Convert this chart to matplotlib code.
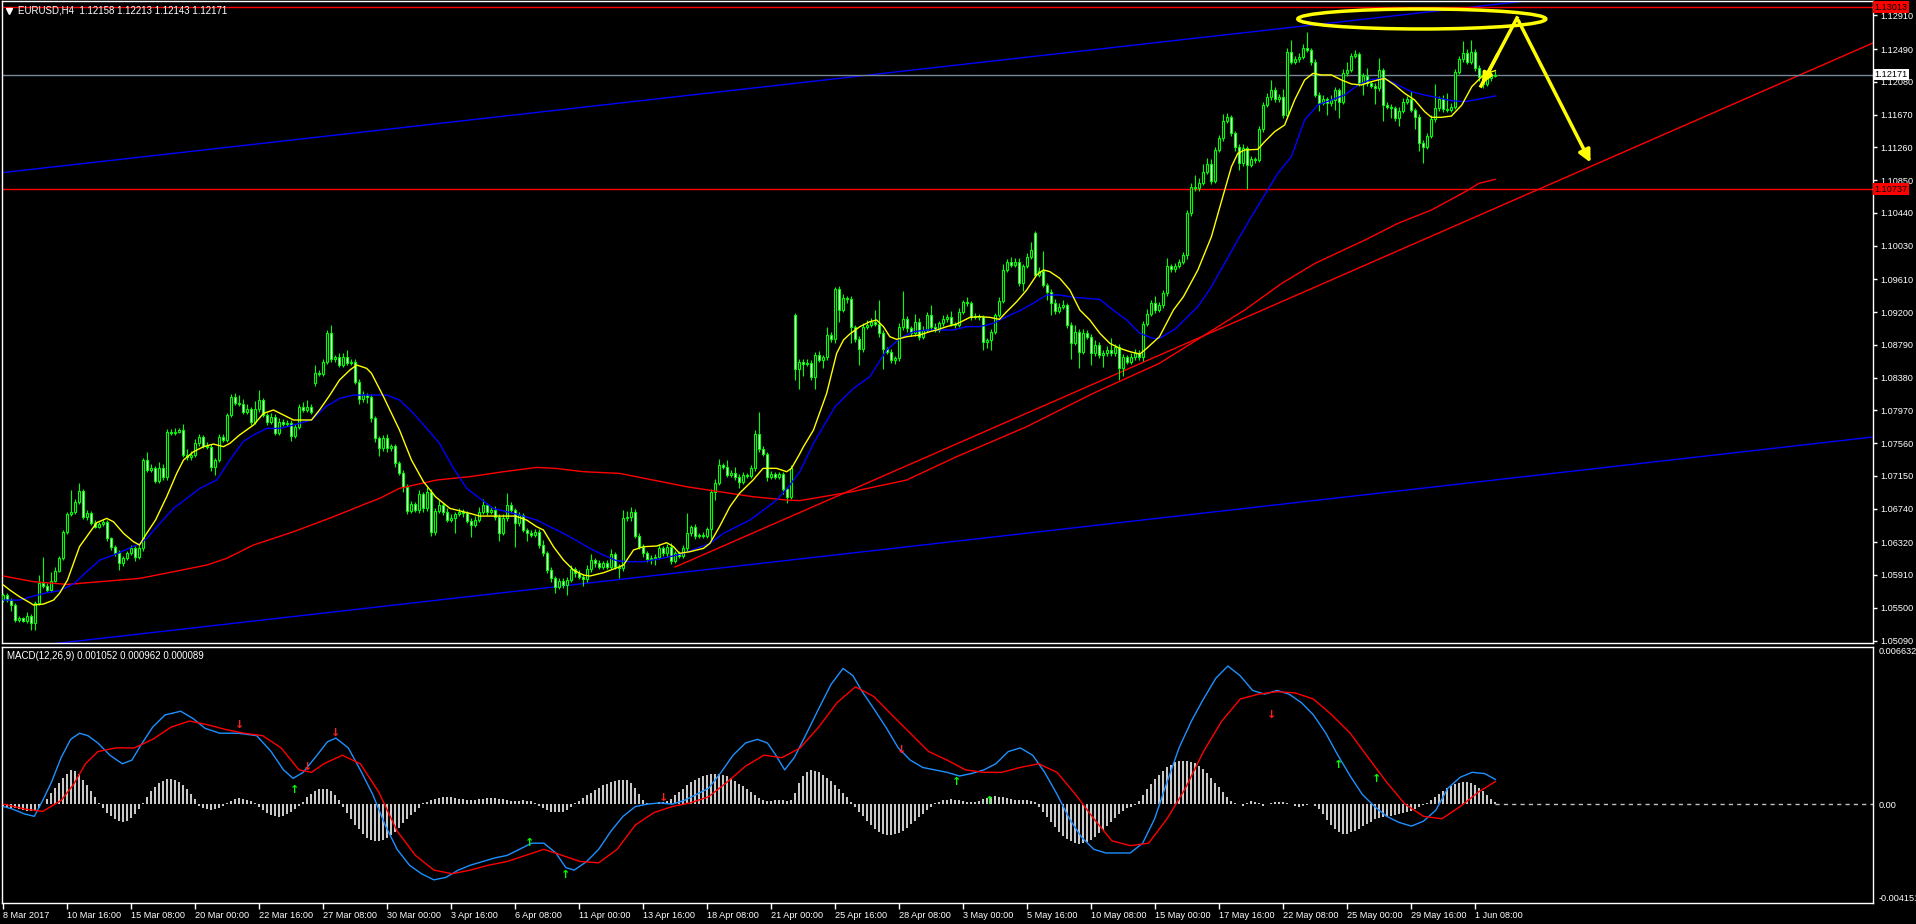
import matplotlib
matplotlib.use("Agg")
import matplotlib.pyplot as plt
import matplotlib.transforms as mtransforms
from matplotlib.patches import Ellipse
import numpy as np

W, H = 1916, 924
plt.rcParams['font.family'] = ['Liberation Sans', 'DejaVu Sans']

# EURUSD H4 closes, bar 0 = 8 Mar 2017 00:00
closes = [
    1.05659, 1.05596, 1.05534, 1.05346, 1.05367, 1.05338, 1.05396, 1.05304, 1.05555, 1.05805,
    1.05772, 1.05721, 1.05838, 1.05963, 1.06118, 1.06447, 1.06672, 1.06693, 1.06827, 1.06960,
    1.06631, 1.06681, 1.06564, 1.06514, 1.06547, 1.06576, 1.06368, 1.06264, 1.06189, 1.06055,
    1.06118, 1.06180, 1.06243, 1.06130, 1.06243, 1.07348, 1.07223, 1.07244, 1.07090, 1.07244,
    1.07131, 1.07703, 1.07682, 1.07703, 1.07724, 1.07411, 1.07390, 1.07411, 1.07557, 1.07632,
    1.07523, 1.07515, 1.07265, 1.07348, 1.07632, 1.07598, 1.07911, 1.08141, 1.08066, 1.08049,
    1.07953, 1.07982, 1.07828, 1.07982, 1.08099, 1.07911, 1.07828, 1.07890, 1.07690, 1.07828,
    1.07799, 1.07815, 1.07648, 1.07765, 1.08015, 1.07974, 1.08015, 1.07953, 1.08441, 1.08424,
    1.08579, 1.08933, 1.08608, 1.08633, 1.08537, 1.08641, 1.08566, 1.08579, 1.08328, 1.08107,
    1.08161, 1.08141, 1.07870, 1.07619, 1.07494, 1.07619, 1.07494, 1.07523, 1.07306, 1.07190,
    1.07014, 1.06714, 1.06798, 1.06722, 1.06923, 1.06743, 1.06952, 1.06443, 1.06714, 1.06785,
    1.06702, 1.06597, 1.06618, 1.06672, 1.06702, 1.06681, 1.06589, 1.06535, 1.06597, 1.06702,
    1.06785, 1.06702, 1.06722, 1.06639, 1.06439, 1.06618, 1.06785, 1.06722, 1.06556, 1.06660,
    1.06472, 1.06431, 1.06410, 1.06451, 1.06285, 1.06180, 1.05972, 1.05867, 1.05763, 1.05838,
    1.05784, 1.05847, 1.05980, 1.05930, 1.05888, 1.05855, 1.05980, 1.06097, 1.06055, 1.06013,
    1.06055, 1.06013, 1.06172, 1.06013, 1.05993, 1.06618, 1.06631, 1.06702, 1.06397, 1.06264,
    1.06180, 1.06105, 1.06118, 1.06139, 1.06243, 1.06180, 1.06264, 1.06088, 1.06180, 1.06147,
    1.06243, 1.06431, 1.06506, 1.06397, 1.06410, 1.06397, 1.06481, 1.06952, 1.07065, 1.07286,
    1.07265, 1.07160, 1.07181, 1.07140, 1.07077, 1.07160, 1.07148, 1.07244, 1.07674, 1.07482,
    1.07423, 1.07140, 1.07173, 1.07140, 1.07173, 1.06981, 1.06889, 1.07244, 1.08483, 1.08579,
    1.08549, 1.08566, 1.08391, 1.08662, 1.08599, 1.08633, 1.08912, 1.08858, 1.09484, 1.09225,
    1.09371, 1.09358, 1.09008, 1.08858, 1.08733, 1.09017, 1.09037, 1.09079, 1.09050, 1.08933,
    1.08733, 1.08704, 1.08599, 1.08620, 1.09008, 1.09108, 1.08996, 1.08933, 1.09079, 1.08891,
    1.08975, 1.09162, 1.09017, 1.08975, 1.09058, 1.09108, 1.09133, 1.09050, 1.09037, 1.09204,
    1.09325, 1.09308, 1.09142, 1.09150, 1.09133, 1.08829, 1.08850, 1.08954, 1.09162, 1.09342,
    1.09726, 1.09830, 1.09788, 1.09830, 1.09567, 1.09776, 1.09892, 1.09976, 1.09663, 1.09717,
    1.09538, 1.09454, 1.09308, 1.09217, 1.09267, 1.09288, 1.09037, 1.08816, 1.08954, 1.08704,
    1.08941, 1.08891, 1.08683, 1.08787, 1.08662, 1.08683, 1.08724, 1.08683, 1.08766, 1.08495,
    1.08633, 1.08579, 1.08633, 1.08691, 1.08633, 1.09050, 1.09175, 1.09317, 1.09225, 1.09288,
    1.09433, 1.09775, 1.09734, 1.09775, 1.09830, 1.09913, 1.10435, 1.10768, 1.10747, 1.10818,
    1.10956, 1.11052, 1.10843, 1.11227, 1.11373, 1.11594, 1.11636, 1.11436, 1.11269, 1.11060,
    1.11248, 1.11039, 1.11110, 1.11102, 1.11486, 1.11790, 1.11886, 1.11978, 1.11861, 1.11886,
    1.11665, 1.12457, 1.12332, 1.12362, 1.12395, 1.12499, 1.12478, 1.12332, 1.11915, 1.11819,
    1.11861, 1.11811, 1.11853, 1.11978, 1.11832, 1.12186, 1.12228, 1.12403, 1.12428, 1.12061,
    1.12153, 1.12061, 1.12028, 1.11999, 1.12228, 1.11790, 1.11769, 1.11748, 1.11623, 1.11719,
    1.11832, 1.11861, 1.11728, 1.11644, 1.11319, 1.11269, 1.11402, 1.11611, 1.11748, 1.11861,
    1.11736, 1.11728, 1.11769, 1.12207, 1.12362, 1.12437, 1.12332, 1.12457, 1.12249, 1.12145,
    1.12053, 1.12124, 1.12158, 1.12171,
]
# opens that differ from the previous close (weekend gaps)
gap_opens = {0: 1.05605, 78: 1.08307, 198: 1.09162, 258: 1.10184}
# wick lengths in pips above / below the body
wick_up = [
    3, 2, 2, 2, 3, 2, 5, 3, 3, 10, 33, 4, 11, 5, 3, 3, 2, 28, 3, 10,
    3, 4, 3, 4, 3, 3, 2, 2, 2, 3, 3, 3, 4, 3, 4, 3, 10, 5, 3, 8,
    5, 3, 3, 4, 3, 8, 8, 5, 5, 4, 3, 5, 3, 3, 4, 4, 3, 3, 4, 10,
    6, 7, 3, 10, 13, 3, 3, 5, 3, 4, 3, 3, 3, 3, 4, 6, 8, 3, 10, 3,
    3, 4, 10, 3, 5, 5, 8, 3, 3, 4, 5, 3, 3, 3, 3, 4, 6, 3, 3, 3,
    3, 3, 4, 3, 5, 3, 6, 3, 4, 6, 3, 4, 5, 3, 4, 3, 3, 3, 5, 6,
    8, 3, 4, 5, 3, 5, 15, 4, 3, 4, 3, 3, 4, 3, 3, 6, 3, 4, 3, 3,
    3, 4, 5, 3, 4, 3, 5, 8, 3, 4, 3, 4, 6, 3, 3, 10, 8, 6, 3, 4,
    3, 3, 4, 3, 5, 3, 3, 4, 3, 3, 4, 25, 3, 4, 3, 4, 3, 3, 4, 8,
    3, 8, 4, 8, 3, 4, 3, 4, 5, 28, 4, 3, 4, 3, 3, 3, 3, 4, 3, 3,
    3, 4, 3, 4, 5, 3, 10, 4, 3, 4, 5, 3, 4, 3, 4, 5, 6, 4, 15, 30,
    4, 3, 3, 3, 6, 35, 4, 3, 10, 4, 5, 4, 12, 4, 3, 5, 4, 8, 3, 5,
    3, 6, 3, 4, 3, 3, 3, 3, 3, 5, 8, 3, 6, 4, 4, 3, 5, 10, 3, 4,
    25, 3, 4, 5, 4, 6, 3, 4, 8, 3, 5, 4, 3, 6, 4, 4, 5, 15, 4, 3,
    4, 3, 5, 4, 3, 4, 6, 3, 8, 4, 4, 10, 3, 4, 3, 4, 4, 4, 15, 6,
    10, 8, 6, 4, 4, 8, 5, 3, 3, 3, 5, 3, 4, 3, 4, 4, 6, 12, 4, 4,
    10, 5, 15, 4, 5, 6, 20, 3, 3, 4, 5, 3, 6, 4, 3, 5, 10, 4, 5, 3,
    4, 10, 3, 4, 15, 3, 4, 3, 3, 4, 5, 4, 10, 3, 3, 3, 4, 5, 30, 4,
    5, 20, 4, 3, 4, 15, 5, 15, 3, 4, 3, 4, 5, 4,
]
wick_dn = [
    3, 3, 8, 3, 2, 2, 3, 8, 8, 2, 2, 2, 3, 2, 2, 2, 3, 3, 2, 3,
    2, 3, 3, 2, 2, 3, 3, 4, 4, 8, 3, 2, 2, 4, 2, 3, 3, 3, 3, 3,
    3, 3, 2, 2, 2, 3, 4, 4, 2, 3, 3, 3, 5, 10, 3, 3, 3, 2, 3, 3,
    3, 3, 4, 3, 3, 3, 4, 3, 3, 3, 3, 3, 6, 3, 3, 3, 3, 3, 3, 3,
    3, 3, 3, 3, 3, 3, 3, 3, 3, 6, 3, 8, 4, 5, 10, 3, 4, 3, 4, 3,
    6, 4, 3, 3, 4, 5, 3, 4, 3, 3, 4, 3, 3, 18, 3, 4, 3, 15, 3, 3,
    3, 4, 3, 4, 10, 3, 3, 4, 30, 3, 3, 10, 3, 3, 4, 3, 4, 5, 8, 3,
    4, 12, 3, 4, 3, 8, 3, 3, 4, 3, 3, 3, 3, 3, 12, 3, 3, 4, 3, 3,
    4, 3, 6, 8, 3, 3, 4, 4, 3, 3, 3, 3, 3, 4, 3, 3, 3, 12, 10, 3,
    3, 3, 3, 4, 8, 3, 3, 3, 3, 3, 3, 5, 3, 3, 3, 6, 8, 3, 13, 25,
    15, 3, 4, 15, 3, 10, 3, 3, 4, 15, 3, 4, 20, 3, 20, 3, 3, 3, 3, 4,
    25, 3, 4, 5, 3, 3, 4, 3, 3, 4, 3, 3, 4, 3, 3, 3, 3, 3, 4, 3,
    3, 3, 4, 3, 3, 10, 8, 12, 3, 3, 3, 3, 3, 3, 4, 10, 3, 3, 3, 3,
    3, 10, 15, 4, 3, 3, 4, 20, 3, 20, 3, 3, 15, 3, 4, 15, 3, 3, 3, 15,
    10, 3, 3, 3, 3, 5, 3, 3, 4, 3, 4, 3, 3, 3, 3, 3, 5, 3, 3, 3,
    3, 3, 4, 3, 3, 3, 3, 4, 5, 8, 3, 30, 3, 4, 3, 3, 3, 3, 3, 3,
    4, 3, 3, 3, 3, 3, 3, 4, 3, 10, 3, 15, 3, 12, 20, 3, 3, 3, 3, 3,
    15, 3, 3, 20, 3, 20, 3, 12, 3, 10, 3, 3, 3, 15, 10, 20, 3, 3, 3, 3,
    3, 3, 3, 3, 3, 3, 3, 3, 3, 5, 5, 3, 3, 3,
]
last_high, last_low = 1.12213, 1.12143

# moving averages: (bar, price)
ma_yellow = [
    (0, 1.05784), (1.6, 1.05721), (4, 1.05638), (6.6, 1.05563), (7.5, 1.05534), (10, 1.05546),
    (12.5, 1.05596), (14, 1.05680), (16, 1.05847), (17.5, 1.06055), (19, 1.06264), (20.8, 1.06389),
    (23.3, 1.06564), (25.8, 1.06618), (27.5, 1.06576), (30, 1.06431), (32.5, 1.06326), (34, 1.06285),
    (35.8, 1.06431), (38, 1.06597), (40.8, 1.06889), (43.3, 1.07181), (45, 1.07348), (47.5, 1.07452),
    (50, 1.07515), (52.5, 1.07548), (55, 1.07515), (56.6, 1.07557), (59, 1.07661), (62.5, 1.07786),
    (65, 1.07932), (67.5, 1.07974), (70, 1.07911), (72.5, 1.07849), (77, 1.07849), (79, 1.07974),
    (81.6, 1.08161), (84, 1.08349), (86.6, 1.08474), (88.3, 1.08537), (90.8, 1.08495), (92, 1.08433),
    (95, 1.08141), (99, 1.07724), (102, 1.07348), (105, 1.07077), (108, 1.06889), (111.6, 1.06743),
    (116.6, 1.06681), (119, 1.06647), (125, 1.06647), (128, 1.06647), (130.8, 1.06597), (133.3, 1.06514),
    (135, 1.06472), (137.5, 1.06264), (140, 1.06097), (142.5, 1.05972), (145, 1.05909), (146.6, 1.05897),
    (150, 1.05938), (153, 1.05993), (155, 1.06034), (157.5, 1.06222), (160, 1.06264), (163.3, 1.06272),
    (165.8, 1.06314), (167.5, 1.06264), (169, 1.06180), (171.6, 1.06201), (175, 1.06243), (176.6, 1.06305),
    (179, 1.06514), (181.6, 1.06764), (184, 1.06931), (187.4, 1.07098), (189.9, 1.07244), (193.3, 1.07244),
    (195.8, 1.07202), (197, 1.07244), (199, 1.07420), (200, 1.07515), (202.5, 1.07723), (205.8, 1.08182),
    (208.3, 1.08683), (210, 1.08850), (211.6, 1.08925), (214.1, 1.09017), (216.6, 1.09079), (218.3, 1.09100),
    (220, 1.09017), (221.6, 1.08891), (223.3, 1.08858), (225.8, 1.08891), (229, 1.08912), (231.6, 1.08954),
    (233.3, 1.08975), (235.8, 1.09017), (238.3, 1.09050), (241.6, 1.09133), (244, 1.09142), (246.6, 1.09133),
    (249, 1.09108), (250.8, 1.09204), (253.3, 1.09329), (255.8, 1.09475), (258.3, 1.09663), (260, 1.09726),
    (261.6, 1.09705), (264.1, 1.09621), (266.6, 1.09475), (269.1, 1.09225), (271.6, 1.09100), (274.1, 1.08933),
    (276.6, 1.08808), (279.1, 1.08745), (281.6, 1.08704), (284.1, 1.08674), (285.8, 1.08745), (289, 1.08891),
    (292.5, 1.09225), (295, 1.09392), (298.6, 1.09725), (302, 1.10143), (304.6, 1.10601), (307, 1.11018),
    (308.6, 1.11185), (310.3, 1.11227), (313.6, 1.11235), (315.3, 1.11331), (317.8, 1.11456), (320.3, 1.11540),
    (322.8, 1.11853), (325.3, 1.12103), (327.4, 1.12186), (329.5, 1.12166), (332, 1.12166), (334.5, 1.12103),
    (337, 1.12053), (339.5, 1.12040), (342, 1.12082), (345.3, 1.12124), (347.8, 1.12040), (350.3, 1.11936),
    (352.8, 1.11853), (355.3, 1.11707), (357, 1.11636), (359.5, 1.11636), (362, 1.11652), (364.6, 1.11790),
    (367.1, 1.12020), (369.6, 1.12145), (372.1, 1.12207), (373, 1.12220),
]
ma_blue = [
    (0, 1.05596), (4, 1.05596), (7.5, 1.05646), (10.8, 1.05688), (14, 1.05713), (17.5, 1.05797),
    (20.8, 1.05951), (24.1, 1.06097), (27.5, 1.06159), (30.8, 1.06230), (34.1, 1.06305), (35.8, 1.06368),
    (39.1, 1.06556), (42.5, 1.06743), (45.8, 1.06868), (49.1, 1.06994), (53.3, 1.07098), (56.6, 1.07348),
    (59.9, 1.07578), (62.5, 1.07661), (65.8, 1.07744), (69.1, 1.07744), (72.5, 1.07786), (77, 1.07849),
    (80.8, 1.08024), (84.1, 1.08120), (87.5, 1.08161), (95.8, 1.08161), (99, 1.08099), (102.5, 1.07932),
    (105.8, 1.07744), (109, 1.07557), (112.5, 1.07244), (115.8, 1.06994), (119.1, 1.06868), (122.4, 1.06743),
    (125.8, 1.06702), (129.1, 1.06660), (133.3, 1.06597), (136.6, 1.06514), (140, 1.06431), (143.3, 1.06339),
    (146.6, 1.06243), (150, 1.06159), (153.3, 1.06088), (156.6, 1.06076), (160, 1.06076), (163.3, 1.06105),
    (166.6, 1.06139), (170, 1.06180), (173.3, 1.06243), (176.6, 1.06305), (180, 1.06431), (183.3, 1.06514),
    (186.6, 1.06597), (190, 1.06722), (193.3, 1.06848), (196.6, 1.07035), (199.1, 1.07202), (202.5, 1.07557),
    (207.9, 1.08015), (212.5, 1.08245), (216.6, 1.08391), (220.8, 1.08724), (224.1, 1.08870), (227.5, 1.08954),
    (230.8, 1.08975), (237.5, 1.08975), (240.8, 1.09017), (244.1, 1.09017), (247.4, 1.09058), (250.8, 1.09142),
    (254.1, 1.09217), (257.4, 1.09308), (260.8, 1.09413), (264.1, 1.09413), (267.4, 1.09384), (270.8, 1.09371),
    (274.1, 1.09358), (277.4, 1.09225), (280.8, 1.09100), (284.1, 1.08933), (287.4, 1.08870), (289, 1.08870),
    (293, 1.08990), (298.6, 1.09267), (302, 1.09517), (305.3, 1.09809), (308.6, 1.10101), (312, 1.10393),
    (315.3, 1.10664), (318.6, 1.10935), (322, 1.11144), (325.3, 1.11602), (328.6, 1.11790), (332, 1.11853),
    (335.3, 1.11915), (338.6, 1.12040), (342, 1.12111), (345.3, 1.12124), (348.6, 1.12040), (352, 1.11957),
    (355.3, 1.11915), (358.6, 1.11882), (362, 1.11844), (365.3, 1.11832), (368.6, 1.11861), (373, 1.11903),
]
ma_red = [
    (0, 1.05897), (7.5, 1.05826), (16, 1.05792), (24, 1.05826), (34, 1.05867), (42.5, 1.05951),
    (50.8, 1.06034), (55.8, 1.06118), (62.5, 1.06285), (72.5, 1.06451), (82.5, 1.06639), (90.8, 1.06806),
    (94, 1.06868), (99, 1.06994), (108.3, 1.07098), (116.6, 1.07140), (125, 1.07202), (133.3, 1.07256),
    (138, 1.07244), (145, 1.07202), (154, 1.07181), (162.4, 1.07098), (170.8, 1.07014), (179, 1.06952),
    (187.4, 1.06889), (195.8, 1.06848), (199, 1.06840), (212, 1.06950), (225.8, 1.07098), (238.3, 1.07390),
    (255.8, 1.07765), (272.4, 1.08182), (289, 1.08558), (310.3, 1.09225), (319.6, 1.09559), (327.9, 1.09809),
    (340.4, 1.10101), (348.6, 1.10309), (357, 1.10476), (365.5, 1.10706), (368.9, 1.10810), (373, 1.10860),
]

# drawn objects: (bar, price) anchors
blue_channel_top = [(-0.875, 1.10940), (467.4, 1.13581)]
blue_channel_bottom = [(-0.875, 1.04973), (467.4, 1.07636)]
red_trend = [(167.9, 1.06009), (467.4, 1.12566)]
hlines_red = [1.13013, 1.10737]
bid = 1.12171
ellipse_center = (354.6, 1.12866)
ellipse_size = (62, 0.0025)
arrow_path = [(369.4, 1.12028), (378.4, 1.12879), (397.1, 1.11039)]

price_ticks = [1.05090, 1.05500, 1.05910, 1.06320, 1.06740, 1.07150, 1.07560, 1.07970, 1.08380, 1.08790,
               1.09200, 1.09610, 1.10030, 1.10440, 1.10850, 1.11260, 1.11670, 1.12080, 1.12490, 1.12910]
date_labels = ['8 Mar 2017', '10 Mar 16:00', '15 Mar 08:00', '20 Mar 00:00', '22 Mar 16:00', '27 Mar 08:00',
               '30 Mar 00:00', '3 Apr 16:00', '6 Apr 08:00', '11 Apr 00:00', '13 Apr 16:00', '18 Apr 08:00',
               '21 Apr 00:00', '25 Apr 16:00', '28 Apr 08:00', '3 May 00:00', '5 May 16:00', '10 May 08:00',
               '15 May 00:00', '17 May 16:00', '22 May 08:00', '25 May 00:00', '29 May 16:00', '1 Jun 08:00']
date_bars = list(range(0, 16 * len(date_labels), 16))

# MACD(12,26,9): main line and signal line (bar, value)
macd_main = [
    (0, -0.000088), (2.2, -0.000191), (5.2, -0.000397), (7.7, -0.000500), (9.8, 0.000169), (12.0, 0.000941),
    (14.4, 0.001971), (16.8, 0.002743), (19.0, 0.003000), (21.1, 0.002897), (23.6, 0.002588), (26.6, 0.002074),
    (29.7, 0.001714), (32.1, 0.001868), (34.3, 0.002485), (37.3, 0.003257), (40.4, 0.003772), (44.3, 0.003926),
    (47.4, 0.003618), (50.4, 0.003206), (54.1, 0.003000), (58.7, 0.003000), (63.3, 0.002897), (66.9, 0.002228),
    (70.0, 0.001456), (72.4, 0.001096), (74.9, 0.001353), (77.9, 0.001971), (81.0, 0.002640), (83.1, 0.002794),
    (86.2, 0.002382), (89.2, 0.001456), (92.3, 0.000427), (95.4, -0.000860), (98.4, -0.001890), (101.5, -0.002559),
    (104.5, -0.002919), (107.6, -0.003176), (110.6, -0.003073), (113.7, -0.002765), (116.7, -0.002559),
    (119.8, -0.002404), (122.9, -0.002250), (125.9, -0.002147), (129.0, -0.001890), (132.0, -0.001632),
    (135.1, -0.001632), (138.1, -0.002044), (140.6, -0.002662), (142.7, -0.002765), (145.8, -0.002404),
    (148.8, -0.001890), (151.9, -0.001118), (154.9, -0.000500), (158.0, -0.000088), (161.0, 0.000015),
    (164.1, 0.000066), (167.2, 0.000015), (170.2, 0.000169), (173.3, 0.000427), (176.3, 0.000684),
    (179.4, 0.001353), (182.4, 0.002074), (185.5, 0.002588), (188.5, 0.002743), (191.0, 0.002588),
    (193.1, 0.002074), (195.3, 0.001456), (197.7, 0.001971), (200.8, 0.003000), (203.8, 0.004029),
    (206.9, 0.005059), (209.9, 0.005728), (212.4, 0.005419), (214.5, 0.004801), (217.6, 0.004029),
    (220.6, 0.003257), (223.7, 0.002382), (226.7, 0.001868), (229.8, 0.001559), (232.8, 0.001456),
    (235.9, 0.001353), (239.0, 0.001198), (242.0, 0.001301), (245.1, 0.001456), (248.1, 0.001714),
    (251.2, 0.002228), (254.2, 0.002382), (257.3, 0.002074), (260.3, 0.001353), (263.4, 0.000427),
    (266.5, -0.000603), (269.5, -0.001375), (272.6, -0.001890), (275.6, -0.002044), (281.7, -0.002044),
    (284.8, -0.001632), (287.8, -0.000603), (290.9, 0.000941), (293.9, 0.002382), (297.0, 0.003515),
    (300.0, 0.004441), (303.1, 0.005316), (306.1, 0.005831), (309.2, 0.005419), (312.3, 0.004801),
    (315.3, 0.004647), (318.4, 0.004801), (321.4, 0.004647), (324.5, 0.004287), (327.5, 0.003772),
    (330.6, 0.003000), (333.6, 0.002074), (336.7, 0.001198), (339.7, 0.000427), (342.8, -0.000088),
    (345.8, -0.000500), (348.9, -0.000757), (352.0, -0.000912), (355.0, -0.000706), (358.1, -0.000243),
    (361.1, 0.000684), (364.2, 0.001147), (367.2, 0.001353), (370.3, 0.001301), (373, 0.001052),
]
macd_signal = [
    (0, 0.000015), (5.2, -0.000191), (9.8, -0.000294), (14.4, 0.000169), (17.5, 0.000838), (20.5, 0.001714),
    (23.6, 0.002228), (28.1, 0.002382), (32.7, 0.002382), (37.3, 0.002743), (41.9, 0.003257), (46.5, 0.003515),
    (51.0, 0.003360), (55.6, 0.003154), (60.2, 0.003000), (64.8, 0.002897), (69.4, 0.002382), (73.9, 0.001456),
    (77.0, 0.001353), (80.1, 0.001714), (84.7, 0.002074), (89.2, 0.001714), (93.8, 0.000529), (98.4, -0.001118),
    (103.0, -0.002147), (107.6, -0.002765), (112.2, -0.002919), (116.7, -0.002765), (121.3, -0.002559),
    (125.9, -0.002404), (130.5, -0.002147), (135.1, -0.001890), (139.7, -0.002147), (144.2, -0.002404),
    (148.8, -0.002456), (153.4, -0.001890), (158.0, -0.000860), (162.6, -0.000346), (167.2, -0.000088),
    (171.7, 0.000066), (176.3, 0.000324), (180.9, 0.000941), (185.5, 0.001611), (190.1, 0.002074),
    (194.6, 0.001971), (199.2, 0.002382), (203.8, 0.003257), (208.4, 0.004287), (213.0, 0.004956),
    (217.6, 0.004544), (222.1, 0.003772), (226.7, 0.003000), (231.3, 0.002228), (235.9, 0.001868),
    (240.5, 0.001456), (245.1, 0.001353), (249.6, 0.001353), (254.2, 0.001559), (258.8, 0.001714),
    (263.4, 0.001353), (268.0, 0.000427), (272.6, -0.000603), (277.1, -0.001529), (281.7, -0.001735),
    (286.3, -0.001632), (290.9, -0.000603), (295.5, 0.000684), (300.0, 0.002228), (304.6, 0.003515),
    (309.2, 0.004441), (313.8, 0.004647), (318.4, 0.004750), (322.9, 0.004699), (327.5, 0.004441),
    (332.1, 0.003772), (336.7, 0.003000), (341.2, 0.001971), (345.8, 0.000941), (350.4, 0.000015),
    (355.0, -0.000500), (359.6, -0.000603), (364.2, -0.000088), (368.8, 0.000529), (373, 0.000962),
]
# histogram (main - signal) per bar, in millionths
osma_micro = [
    -120, -150, -170, -160, -180, -220, -260, -280, -250, -150,
    20, 250, 480, 700, 900, 1100, 1280, 1440, 1400, 1300,
    1050, 800, 550, 300, 60,
    -150, -350, -500, -620, -700, -720, -680, -560, -400, -200,
    60, 300, 550, 750, 900, 1000, 1060, 1080, 1040, 950, 820, 650, 450, 250,
    -50, -150, -200, -220, -200, -150, -80,
    60, 150, 220, 260, 240, 200, 150, 80,
    -100, -250, -380, -460, -500, -520, -480, -420, -330, -200, -80,
    120, 300, 450, 560, 640, 670, 650, 560, 400, 200,
    -100, -350, -600, -850, -1050, -1250, -1400, -1500, -1540, -1545,
    -1500, -1420, -1300, -1150, -980, -800, -620, -450, -300, -150,
    50, 120, 180, 230, 270, 300, 310, 300, 280, 250, 220, 200, 190, 200, 220,
    250, 270, 280, 270, 250, 220, 190, 160, 150, 160, 170, 160, 130, 80,
    -50, -150, -250, -300, -320, -330, -300, -230, -120,
    50, 150, 260, 380, 500, 610, 710, 800, 870, 930, 980, 1010, 1030, 1010, 900, 700, 450, 200,
    80, 60, 80, 100, 120, 150,
    250, 380, 520, 660, 800, 930, 1040, 1130, 1200, 1250, 1280, 1290, 1280,
    1240, 1180, 1100, 1000, 880, 760, 640, 520, 400, 290, 200, 150,
    150, 170, 180, 170, 160, 200,
    500, 900, 1200, 1380, 1440, 1420, 1350, 1250, 1120, 980, 820, 650, 480, 300, 120,
    -100, -300, -500, -700, -880, -1040, -1160, -1240, -1280, -1290,
    -1260, -1200, -1100, -980, -840, -690, -540, -390, -250, -120,
    60, 120, 170, 200, 210, 200, 180, 150, 120, 100, 90,
    150, 220, 280, 320, 340, 330, 300, 260, 220, 200, 190, 180, 170, 150, 100,
    -100, -300, -520, -750, -960, -1150, -1320, -1460, -1560, -1620, -1650, -1630, -1570,
    -1480, -1360, -1220, -1060, -890, -720, -560, -410, -280, -170, -90, -30,
    150, 400, 650, 880, 1080, 1260, 1420, 1560, 1680, 1770, 1830, 1850,
    1840, 1800, 1730, 1620, 1480, 1310, 1120, 920, 720, 520, 330, 160,
    60, 0, -60, 80, 150, 100, 50, -50, 0, 60, 100, 120, 90, 50, 0, -60, -100, -80, -40, 0, -50,
    -200, -420, -650, -850, -1020, -1150, -1240, -1230, -1180, -1110, -1020, -920, -820,
    -720, -630, -560, -520, -500, -480, -450, -420, -380, -330, -270, -200, -120,
    -30, 80, 200, 330, 460, 580, 690, 780, 850, 900, 930, 930, 900, 820, 700, 550, 380, 220, 89,
]
arrows_down = [(59, 0.003154), (76.1, 0.001353), (83.1, 0.002795), (165, 0.000066), (224.6, 0.002074),
               (317.1, 0.003566)]
arrows_up = [(72.8, 0.000838), (131.4, -0.001427), (140.6, -0.002765), (238.3, 0.001147), (246.6, 0.000376),
             (333.7, 0.001868), (343.4, 0.001302)]

# ---------------------------------------------------------------- figure
fig = plt.figure(figsize=(W / 100, H / 100), dpi=100, facecolor='black')
ax = fig.add_axes([2 / W, 1 - 643 / H, 1871 / W, 642 / H], facecolor='black')
ax2 = fig.add_axes([2 / W, 1 - 903 / H, 1871 / W, 256 / H], facecolor='black', sharex=ax)

xmin, xmax = -0.375, 467.4
ax.set_xlim(xmin, xmax)
ax.set_ylim(1.05059, 1.13091)
ax2.set_ylim(-0.004151, 0.006632)

fs = 6.6
for a in (ax, ax2):
    for s in a.spines.values():
        s.set_color('white')
        s.set_linewidth(1)
    a.yaxis.tick_right()

# candles
c = np.array(closes)
idx = np.arange(len(c))
o = np.array([gap_opens.get(i, closes[i - 1]) for i in idx])
hi = np.maximum(o, c) + np.array(wick_up) / 1e4
lo = np.minimum(o, c) - np.array(wick_dn) / 1e4
hi[-1], lo[-1] = last_high, last_low
bull = c >= o
ax.vlines(idx, lo, hi, color='#00ff00', lw=0.8, zorder=3)
ax.bar(idx, c - o, bottom=o, width=0.5, color=np.where(bull, 'black', 'white'),
       edgecolor='#00ff00', linewidth=0.8, zorder=4)

# moving averages
for pts, col in ((ma_red, '#ff0000'), (ma_blue, '#0000ff'), (ma_yellow, '#ffff00')):
    xs, ys = zip(*pts)
    ax.plot(xs, ys, color=col, lw=1.0, zorder=5)

# trend lines and levels
for pts, col in ((blue_channel_top, '#0000ff'), (blue_channel_bottom, '#0000ff'), (red_trend, '#ff0000')):
    xs, ys = zip(*pts)
    ax.plot(xs, ys, color=col, lw=1.0, zorder=2)
for lv in hlines_red:
    ax.axhline(lv, color='#ff0000', lw=1.0, zorder=2)
ax.axhline(bid, color='#778899', lw=1.0, zorder=2)

# yellow annotations
ax.add_patch(Ellipse(ellipse_center, ellipse_size[0], ellipse_size[1], fill=False,
                     edgecolor='#ffff00', lw=2.5, zorder=6))
xs, ys = zip(*arrow_path)
ax.plot(xs[:2], ys[:2], color='#ffff00', lw=2.5, zorder=6)
ax.annotate('', xy=arrow_path[2], xytext=arrow_path[1],
            arrowprops=dict(arrowstyle='-|>', color='#ffff00', lw=2.5, mutation_scale=18), zorder=6)
ax.annotate('', xy=arrow_path[0], xytext=((arrow_path[0][0] + arrow_path[1][0]) / 2,
                                          (arrow_path[0][1] + arrow_path[1][1]) / 2),
            arrowprops=dict(arrowstyle='-|>', color='#ffff00', lw=2.5, mutation_scale=14), zorder=6)

# price axis
ax.set_yticks(price_ticks)
ax.set_yticklabels([f'{v:.5f}' for v in price_ticks])
ax.tick_params(axis='y', colors='white', labelcolor='white', labelsize=fs, length=3, width=1, pad=2)
ax.tick_params(axis='x', bottom=False, labelbottom=False)
tr = mtransforms.blended_transform_factory(ax.transAxes, ax.transData)
for lv in hlines_red:
    ax.text(1.0008, lv, f'{lv:.5f}', transform=tr, fontsize=fs, color='black', va='center', ha='left',
            bbox=dict(boxstyle='square,pad=0.15', fc='#ff0000', ec='none'), clip_on=False, zorder=10)
ax.text(1.0008, bid, f'{bid:.5f}', transform=tr, fontsize=fs, color='black', va='center', ha='left',
        bbox=dict(boxstyle='square,pad=0.15', fc='white', ec='none'), clip_on=False, zorder=10)

ax.plot([0.0035], [0.985], marker='v', color='white', ms=4, transform=ax.transAxes, clip_on=False)
ax.text(0.0086, 0.985, 'EURUSD,H4  1.12158 1.12213 1.12143 1.12171', transform=ax.transAxes,
        fontsize=fs + 0.4, color='white', va='center', ha='left')

# MACD panel
hist = np.array(osma_micro) / 1e6
ax2.bar(idx, hist, width=0.5, color='#c8c8c8', linewidth=0, zorder=2)
xs, ys = zip(*macd_main)
ax2.plot(xs, ys, color='#1e90ff', lw=1.0, zorder=3)
xs, ys = zip(*macd_signal)
ax2.plot(xs, ys, color='#ff0000', lw=1.0, zorder=3)
ax2.plot([len(c) - 1, xmax], [0, 0], color='#c0c0c0', lw=1, ls=(0, (3, 3)), zorder=1)
for b, v in arrows_down:
    ax2.text(b, v, '↓', color='#ff2020', fontsize=8, fontweight='bold', ha='center', va='bottom',
             family='DejaVu Sans', zorder=4)
for b, v in arrows_up:
    ax2.text(b, v, '↑', color='#00ff00', fontsize=8, fontweight='bold', ha='center', va='top',
             family='DejaVu Sans', zorder=4)
ax2.text(0.0027, 0.965, 'MACD(12,26,9) 0.001052 0.000962 0.000089', transform=ax2.transAxes,
         fontsize=fs + 0.4, color='white', va='center', ha='left')

ax2.set_yticks([-0.004151, 0.0, 0.006632])
ax2.set_yticklabels(['-0.004151', '0.00', '0.006632'])
ax2.tick_params(axis='y', colors='white', labelcolor='white', labelsize=fs, length=0, pad=4)
ylabs = ax2.get_yticklabels()
ylabs[0].set_va('bottom')
ylabs[2].set_va('top')

ax2.set_xticks(date_bars)
ax2.set_xticklabels(date_labels, ha='left')
ax2.tick_params(axis='x', colors='white', labelcolor='white', labelsize=fs, length=4, width=1, pad=2)

fig.savefig('out.png', dpi=100, facecolor='black')
